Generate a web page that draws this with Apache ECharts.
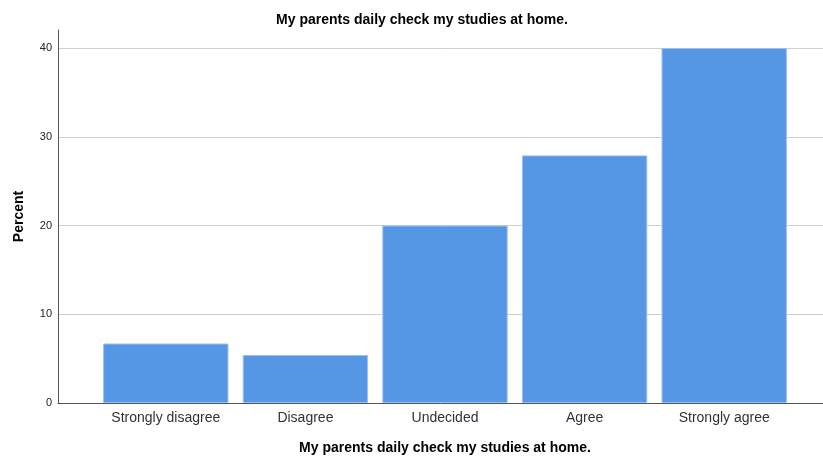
<!DOCTYPE html>
<html>
<head>
<meta charset="utf-8">
<script src="https://cdn.jsdelivr.net/npm/echarts@6/dist/echarts.min.js"></script>
<style>
	html,body{margin:0;padding:0;background:#fff;}
	#chart{width:823px;height:459px;}
</style>
</head>
<body>
<div id="chart"></div>
<script>
var categories = ['Strongly disagree','Disagree','Undecided','Agree','Strongly agree'];
var percents = [6.7, 5.4, 20.0, 27.9, 40.0];
var yTicks = [0, 10, 20, 30, 40];

var titleText = 'My parents daily check my studies at home.';
var FONT = 'Liberation Sans, Arial, sans-serif';
var BAR_COLOR = '#5596E5';

var myChart = echarts.init(document.getElementById('chart'));
myChart.setOption({
	animation:false,
	title:{
		text:titleText,
		left:417,
		textAlign:'center',
		top:8,
		textStyle:{fontFamily:FONT,fontSize:14,fontWeight:'bold',color:'#000'}
	},
	grid:[
		//axis frame
		{left:58,right:0,top:30,bottom:56,outerBoundsMode:'none',containLabel:false},
		//grid lines + tick labels
		{left:58,right:0,top:48,bottom:56,outerBoundsMode:'none',containLabel:false},
		//bars
		{left:96,right:29,top:48,bottom:56,outerBoundsMode:'none',containLabel:false}
	],
	xAxis:[
		{
			gridIndex:0,type:'value',min:0,max:1,
			axisLine:{show:true,onZero:false,lineStyle:{color:'#555',width:1}},
			axisTick:{show:false},axisLabel:{show:false},splitLine:{show:false}
		},
		{
			gridIndex:1,type:'value',show:false
		},
		{
			gridIndex:2,type:'category',data:categories,
			boundaryGap:true,
			axisLine:{show:false},axisTick:{show:false},
			axisLabel:{fontFamily:FONT,fontSize:14,color:'#333',margin:8,interval:0},
			name:titleText,nameLocation:'middle',nameGap:38,
			nameTextStyle:{fontFamily:FONT,fontSize:14,fontWeight:'bold',color:'#000'}
		}
	],
	yAxis:[
		{
			gridIndex:0,type:'value',min:0,max:42,
			axisLine:{show:true,lineStyle:{color:'#555',width:1}},
			axisTick:{show:false},axisLabel:{show:false},splitLine:{show:false},
			name:'Percent',nameLocation:'middle',nameGap:32,
			nameTextStyle:{fontFamily:FONT,fontSize:14,fontWeight:'bold',color:'#000'}
		},
		{
			gridIndex:1,type:'value',min:yTicks[0],max:yTicks[yTicks.length-1],interval:10,
			axisLine:{show:false},axisTick:{show:false},
			axisLabel:{fontFamily:FONT,fontSize:11,color:'#222',margin:6},
			splitLine:{show:true,lineStyle:{color:'#cfcfcf',width:1}}
		},
		{
			gridIndex:2,type:'value',min:0,max:40,show:false
		}
	],
	series:[
		{
			type:'bar',
			xAxisIndex:2,
			yAxisIndex:2,
			data:percents,
			barWidth:'89.8%',
			itemStyle:{color:BAR_COLOR,borderColor:'#9cc0ee',borderWidth:1}
		}
	]
});
</script>
</body>
</html>
